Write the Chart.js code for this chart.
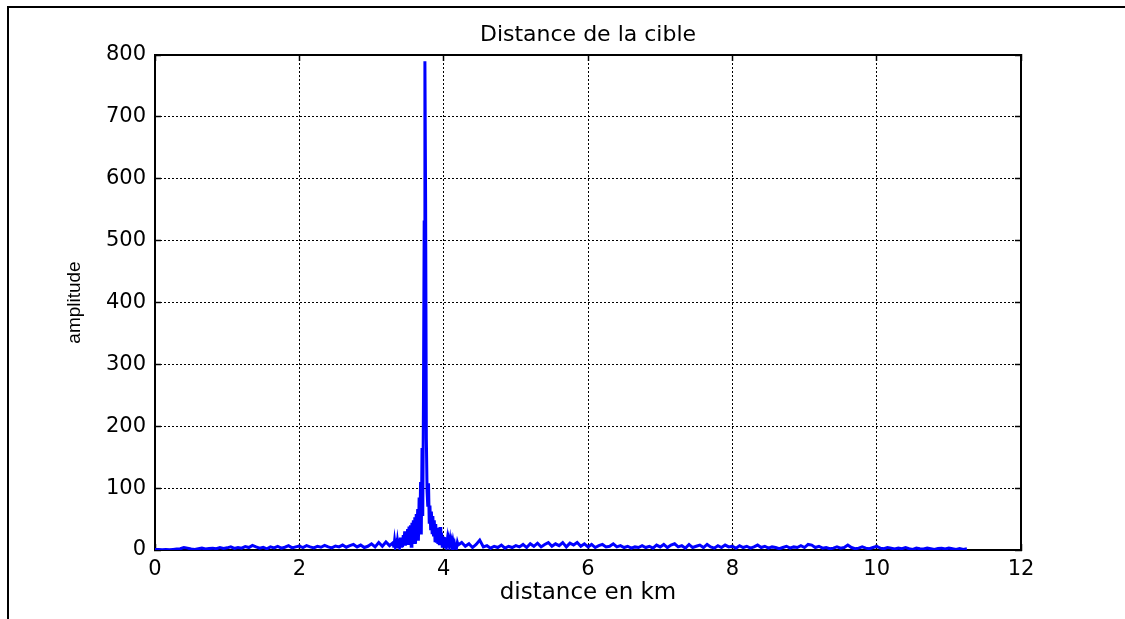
<!DOCTYPE html>
<html>
<head>
<meta charset="utf-8">
<title>Distance de la cible</title>
<script src="https://cdn.jsdelivr.net/npm/chart.js@4.4.1/dist/chart.umd.min.js"></script>
<style>
  html, body { margin: 0; padding: 0; background: #fff; overflow: hidden; }
  #frame {
    position: absolute; left: 7px; top: 6px; width: 1300px; height: 800px;
    border-top: 2px solid #000; border-left: 2px solid #000;
  }
  #wrap { position: absolute; left: 0; top: 0; width: 1125px; height: 619px; }
</style>
</head>
<body>
<div id="frame"></div>
<div id="wrap"><canvas id="chart"></canvas></div>
<script>
// signal before the target (km, amplitude)
const leftKm = [0.00,0.05,0.10,0.15,0.20,0.25,0.30,0.35,0.40,0.45,0.50,0.55,0.60,0.65,0.70,0.75,0.80,0.85,0.90,0.95,
  1.00,1.05,1.10,1.15,1.20,1.25,1.30,1.35,1.40,1.45,1.50,1.55,1.60,1.65,1.70,1.75,1.80,1.85,1.90,1.95,
  2.00,2.05,2.10,2.15,2.20,2.25,2.30,2.35,2.40,2.45,2.50,2.55,2.60,2.65,2.70,2.75,2.80,2.85,2.90,2.95,
  3.00,3.05,3.10,3.15,3.20,3.25];
const leftAmp = [1,1,0.5,1,0.5,1,1.5,2,4,3, 1.5,1,2,3,1.5,2.5,3,2,4,2.5,
  3.5,5,2.5,4,3,5.5,4,7.5,5,3, 4.5,2,5,3.5,6,3,4.5,7,3.5,5,
  6.5,4,7,5,3.5,6,4.5,7.5,5,3.5, 6.5,5,8,4.5,7,9,5,8,4,6,
  10,5,12,6,13,7];

// around the target echo
const peakKm = [3.30,3.31,3.32,3.33,3.34,3.35,3.36,3.37,3.38,3.39,
  3.40,3.41,3.42,3.43,3.44,3.45,3.46,3.47,3.48,3.49,
  3.50,3.51,3.52,3.53,3.54,3.55,3.56,3.57,3.58,3.59,
  3.60,3.61,3.62,3.63,3.64,3.65,3.66,3.67,3.68,3.69,
  3.70,3.71,3.72,3.73,3.74,3.75,3.76,3.77,3.78,3.79,
  3.80,3.81,3.82,3.83,3.84,3.85,3.86,3.87,3.88,3.89,
  3.90,3.91,3.92,3.93,3.94,3.95,3.96,3.97,3.98,3.99,
  4.00,4.01,4.02,4.03,4.04,4.05,4.06,4.07,4.08,4.09,
  4.10,4.11,4.12,4.13,4.14,4.15,4.16,4.17,4.18,4.19];
const peakAmp = [12,4,15,6,10,3,14,5,17,7,
  20,6,18,5,24,9,30,7,28,10,
  34,8,38,14,40,6,44,18,48,12,
  53,10,58,24,66,15,85,32,110,25,
  165,55,240,530,790,560,180,95,70,108,
  45,72,32,62,28,55,22,48,15,42,
  12,36,10,30,8,37,9,28,6,22,
  8,21,5,18,7,16,4,14,6,15,
  5,12,4,13,6,10,3,11,5,12];

// signal after the target
const rightKm = [4.20,4.25,4.30,4.35,4.40,4.45,4.50,4.55,4.60,4.65,
  4.70,4.75,4.80,4.85,4.90,4.95,5.00,5.05,5.10,5.15,
  5.20,5.25,5.30,5.35,5.40,5.45,5.50,5.55,5.60,5.65,
  5.70,5.75,5.80,5.85,5.90,5.95,6.00,6.05,6.10,6.15,
  6.20,6.25,6.30,6.35,6.40,6.45,6.50,6.55,6.60,6.65,
  6.70,6.75,6.80,6.85,6.90,6.95,7.00,7.05,7.10,7.15,
  7.20,7.25,7.30,7.35,7.40,7.45,7.50,7.55,7.60,7.65,
  7.70,7.75,7.80,7.85,7.90,7.95,8.00,8.05,8.10,8.15,
  8.20,8.25,8.30,8.35,8.40,8.45,8.50,8.55,8.60,8.65,
  8.70,8.75,8.80,8.85,8.90,8.95,9.00,9.05,9.10,9.15,
  9.20,9.25,9.30,9.35,9.40,9.45,9.50,9.55,9.60,9.65,
  9.70,9.75,9.80,9.85,9.90,9.95,10.00,10.05,10.10,10.15,
  10.20,10.25,10.30,10.35,10.40,10.45,10.50,10.55,10.60,10.65,
  10.70,10.75,10.80,10.85,10.90,10.95,11.00,11.05,11.10,11.15,
  11.20,11.25];
const rightAmp = [8,12,6,10,4,9,16,5,7,3,
  6,4,8,3,6,4,7,5,9,4,
  10,6,11,5,9,12,6,10,7,12,
  5,11,8,12,6,10,5,9,4,7,
  9,5,6,10,5,7,4,6,3,5,
  4,7,4,6,3,8,5,9,4,8,
  10,5,7,3,9,4,6,8,4,9,
  5,3,7,4,8,5,6,3,7,4,
  6,3,5,8,4,6,3,5,4,2,
  4,6,3,5,4,7,4,9,8,4,
  6,3,4,2,3,5,3,4,8,4,
  2,3,5,3,2,4,6,3,2,4,
  3,1.5,3,2,4,2,1,3,2,1.5,
  3,2,1,2.5,3,1.5,3,2,1,2.5,
  1,2];

const xTicks = [0, 2, 4, 6, 8, 10, 12];
const yTicks = [0, 100, 200, 300, 400, 500, 600, 700, 800];

const distKm = leftKm.concat(peakKm, rightKm);
const amplitude = leftAmp.concat(peakAmp, rightAmp);
const points = distKm.map((x, i) => ({ x: x, y: amplitude[i] }));

const tickFont = { family: "DejaVu Sans", size: 21 };
const gridStyle = { color: "#000", lineWidth: 1, drawTicks: true, tickLength: -6, tickColor: "#000", tickWidth: 1.5 };
const borderStyle = { display: true, color: "#000", width: 2, dash: [2, 2] };

new Chart(document.getElementById("chart"), {
  type: "line",
  data: {
    datasets: [{
      data: points,
      borderColor: "#0000ff",
      borderWidth: 3,
      pointRadius: 0,
      tension: 0,
      fill: false
    }]
  },
  options: {
    responsive: true,
    maintainAspectRatio: false,
    animation: false,
    layout: { padding: 0 },
    plugins: {
      legend: { display: false },
      tooltip: { enabled: false },
      title: {
        display: true,
        text: "Distance de la cible",
        fullSize: false,
        color: "#000",
        font: { family: "DejaVu Sans", size: 22, weight: "normal" },
        padding: { top: 22.3, bottom: 6.3 }
      }
    },
    scales: {
      x: {
        type: "linear", position: "bottom", min: 0, max: 12,
        afterBuildTicks: s => { s.ticks = xTicks.map(v => ({ value: v })); },
        afterFit: s => { s.height = 69; },
        ticks: { color: "#000", font: tickFont, padding: 13, maxRotation: 0 },
        grid: gridStyle,
        border: borderStyle,
        title: {
          display: true, text: "distance en km", color: "#000",
          font: { family: "DejaVu Sans", size: 23 }, padding: { top: 0, bottom: 12.2 }
        }
      },
      y: {
        type: "linear", position: "left", min: 0, max: 800,
        afterBuildTicks: s => { s.ticks = yTicks.map(v => ({ value: v })); },
        afterFit: s => { s.width = 155; },
        ticks: { color: "#000", font: tickFont, padding: 15 },
        grid: gridStyle,
        border: borderStyle,
        title: {
          display: true, text: "amplitude", color: "#000",
          font: { family: "Liberation Sans", size: 19 }, padding: { top: 63.6, bottom: 0 }
        }
      },
      x2: {
        type: "linear", position: "top", min: 0, max: 12,
        afterBuildTicks: s => { s.ticks = xTicks.map(v => ({ value: v })); },
        afterFit: s => { s.height = 0; },
        ticks: { display: false },
        grid: Object.assign({}, gridStyle, { drawOnChartArea: false }),
        border: borderStyle
      },
      y2: {
        type: "linear", position: "right", min: 0, max: 800,
        afterBuildTicks: s => { s.ticks = yTicks.map(v => ({ value: v })); },
        afterFit: s => { s.width = 104; },
        ticks: { display: false },
        grid: Object.assign({}, gridStyle, { drawOnChartArea: false }),
        border: borderStyle
      }
    }
  }
});
</script>
</body>
</html>
